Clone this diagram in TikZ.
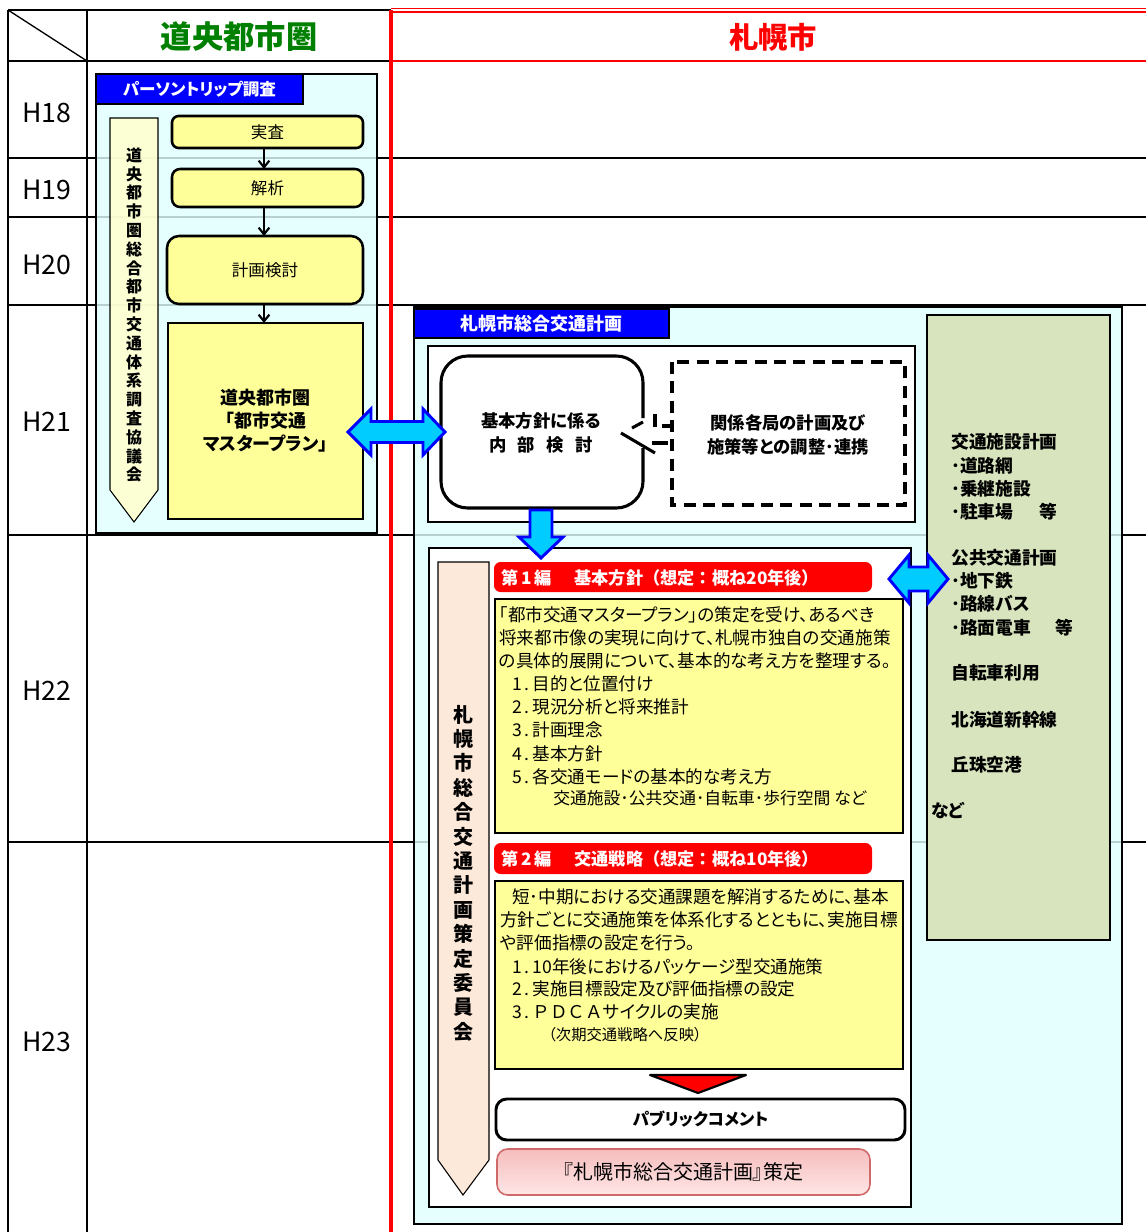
\documentclass[tikz,border=0pt]{standalone}
\usepackage{fontspec}
\setmainfont{Noto Sans CJK JP}
\newfontfamily\jp{Noto Sans CJK JP}
\newfontfamily\jpp[RawFeature=+palt]{Noto Sans CJK JP}
\usetikzlibrary{arrows.meta,fit}
\definecolor{cyanbg}{HTML}{E0FFFF}
\definecolor{ylw}{HTML}{FFFF99}
\definecolor{lylw}{HTML}{FFFFCC}
\definecolor{peach}{HTML}{FDE9D9}
\definecolor{olivebg}{HTML}{D7E4BD}
\definecolor{arrowfill}{HTML}{00CCFF}
\definecolor{hgreen}{HTML}{008000}
\definecolor{pinktop}{HTML}{F6BDBD}
\definecolor{pinkbot}{HTML}{FFE6E6}
\definecolor{pinkline}{HTML}{D06A6A}
\tikzset{
  tline/.style={line width=1.5pt},
  frame/.style={draw, line width=2.2pt, fill=cyanbg, fill opacity=0.82, inner sep=0pt, outer sep=0pt},
  bluetab/.style={draw, line width=1.8pt, fill=blue, inner sep=0pt, outer sep=0pt},
  ybox/.style={draw, line width=1.9pt, fill=ylw, inner sep=0pt, outer sep=0pt},
  wbox/.style={draw, line width=1.9pt, fill=white, inner sep=0pt, outer sep=0pt},
  redtab/.style={fill=red, rounded corners=5pt, inner sep=0pt, outer sep=0pt},
  blockarrow/.style={draw=blue, line width=2.2pt, fill=arrowfill, line join=miter},
  conn/.style={line width=1.6pt, -{Straight Barb[length=5pt,width=8pt]}},
  body/.style={font={\jpp\fontsize{13.2pt}{15pt}\selectfont}, anchor=west, inner sep=0pt},
  bodys/.style={font={\jpp\fontsize{11.5pt}{14pt}\selectfont}, anchor=west, inner sep=0pt},
  bodyb/.style={font={\jpp\bfseries\fontsize{13.3pt}{15pt}\selectfont}, anchor=west, inner sep=0pt},
  tabtext/.style={font={\jp\bfseries\fontsize{12.9pt}{15pt}\selectfont}, anchor=west, inner sep=0pt, text=white},
  cbold/.style={font={\jpp\bfseries\fontsize{13pt}{15pt}\selectfont}, inner sep=0pt},
  hlabel/.style={font={\fontsize{20pt}{24pt}\selectfont}, inner sep=0pt},
}
\begin{document}
\begin{tikzpicture}[x=0.75pt,y=-0.75pt]
\path[use as bounding box, fill=white] (0,0) rectangle (1146,1232);

% ---- table grid ----
\draw[tline] (8,10) -- (391,10);
\draw[tline] (8,61) -- (391,61);
\foreach \yy in {158,217,305,535,842} \draw[tline] (8,\yy) -- (1146,\yy);
\draw[tline] (8,10) -- (8,1232);
\draw[tline] (87,10) -- (87,1232);
\draw[line width=1pt] (8,10) -- (87,61);
\draw[red, line width=1.3pt] (391,8.5) -- (1146,8.5);
\draw[red, line width=1.5pt] (391,12) -- (1146,12);
\draw[red, line width=1.5pt] (391,61) -- (1146,61);
\draw[red, line width=2.4pt] (391,10) -- (391,1232);

\node[font={\bfseries\fontsize{23.5pt}{28pt}\selectfont}, text=hgreen] (hdrA) at (239,37) {道央都市圏};
\node[font={\bfseries\fontsize{22pt}{26pt}\selectfont}, text=red] (hdrB) at (773,37) {札幌市};

\node[hlabel] (h18) at (47,113) {H18};
\node[hlabel] (h19) at (47,190) {H19};
\node[hlabel] (h20) at (47,265) {H20};
\node[hlabel] (h21) at (47,422) {H21};
\node[hlabel] (h22) at (47,691) {H22};
\node[hlabel] (h23) at (47,1042) {H23};

% ---- left frame ----
\node[frame, fit={(96,74) (377,533)}] (leftframe) {};
\node[bluetab, fit={(96,74) (303,104)}] (pttab) {};
\node[font={\jpp\bfseries\fontsize{12.4pt}{14pt}\selectfont}, text=white] at (pttab.center) {パーソントリップ調査};
\path[draw, line width=0.8pt, fill=lylw, fill opacity=0.85, draw opacity=1]
  (110,118) -- (158,118) -- (158,490) -- (134,522) -- (110,490) -- cycle;
\node[font={\jp\bfseries\fontsize{12pt}{14.1pt}\selectfont}, align=center, inner sep=0pt] (kyogikai) at (134,315)
  {道\\央\\都\\市\\圏\\総\\合\\都\\市\\交\\通\\体\\系\\調\\査\\協\\議\\会};

\node[ybox, rounded corners=5pt, fit={(172,116) (363,148)}] (jissa) {};
\node[font={\jp\fontsize{12.4pt}{14pt}\selectfont}] at (jissa.center) {実査};
\node[ybox, rounded corners=6pt, fit={(172,169) (363,207)}] (kaiseki) {};
\node[font={\jp\fontsize{12.4pt}{14pt}\selectfont}] at (kaiseki.center) {解析};
\node[ybox, rounded corners=9pt, fit={(167,236) (363,304)}] (keikaku) {};
\node[font={\jp\fontsize{12.4pt}{14pt}\selectfont}] at (keikaku.center) {計画検討};
\node[ybox, fit={(168,323) (363,519)}] (mp) {};
\node[font={\jpp\bfseries\fontsize{13.5pt}{17.3pt}\selectfont}, align=center] at (mp.center) {道央都市圏\\「都市交通\\マスタープラン」};

\draw[conn] (jissa.south -| 264,0) -- (kaiseki.north -| 264,0);
\draw[conn] (kaiseki.south -| 264,0) -- (keikaku.north -| 264,0);
\draw[conn] (keikaku.south -| 264,0) -- (mp.north -| 264,0);

% ---- Sapporo frame ----
\node[frame, fit={(414,307) (1122,1224)}] (sapframe) {};
\node[bluetab, fit={(414,309) (669,338)}] (saptab) {};
\node[font={\jpp\bfseries\fontsize{13.5pt}{16pt}\selectfont}, text=white] at (saptab.center) {札幌市総合交通計画};

% right olive box
\node[draw, line width=1.4pt, fill=olivebg, inner sep=0pt, outer sep=0pt, fit={(927,315) (1110,940)}] (olive) {};
\node[bodyb] at (951,442) {交通施設計画};
\node[bodyb] at (951,466) {･道路網};
\node[bodyb] at (951,489) {･乗継施設};
\node[bodyb] at (951,512) {･駐車場\hspace{20pt}等};
\node[bodyb] at (951,558) {公共交通計画};
\node[bodyb] at (951,581) {･地下鉄};
\node[bodyb] at (951,604) {･路線バス};
\node[bodyb] at (951,628) {･路面電車\hspace{18pt}等};
\node[bodyb] at (951,673) {自転車利用};
\node[bodyb] at (951,720) {北海道新幹線};
\node[bodyb] at (951,765) {丘珠空港};
\node[bodyb] at (931,811) {など};

% upper white box
\node[wbox, fit={(428,346) (915,522)}] (upper) {};
\draw[line width=2.3pt, rounded corners=20pt, fill=white]
  (643,418) -- (643,356) -- (441,356) -- (441,508) -- (643,508) -- (643,448);
\draw[line width=2.3pt] (621,433) -- (655,453);
\draw[line width=2.3pt] (632,428) -- (643,422);
\draw[line width=2.3pt] (655,414) -- (655,427);
\draw[line width=2.3pt] (662,426) -- (672,426);
\draw[line width=2.3pt] (652,443) -- (668,443);
\node[cbold] (kihon1) at (541,421) {基本方針に係る};
\node[cbold] (kihon2) at (541,445) {内\hspace{8.5pt}部\hspace{8.5pt}検\hspace{8.5pt}討};
\draw[line width=2.3pt, dash pattern=on 9pt off 5.5pt] (672,362) rectangle (905,505);
\node[cbold] (kankei1) at (788,423) {関係各局の計画及び};
\node[cbold] (kankei2) at (788,447) {施策等との調整･連携};

% lower white box
\node[wbox, fit={(429,548) (911,1207)}] (lower) {};
\path[draw, line width=0.8pt, fill=peach]
  (438,562) -- (489,562) -- (489,1160) -- (463,1195) -- (438,1160) -- cycle;
\node[font={\jp\bfseries\fontsize{15pt}{18.3pt}\selectfont}, align=center, inner sep=0pt] (iinkai) at (463,873)
  {札\\幌\\市\\総\\合\\交\\通\\計\\画\\策\\定\\委\\員\\会};

\node[redtab, fit={(494,562) (872,592)}] (tab1) {};
\node[tabtext] at (501,578) {第\,1\,編\hspace{17pt}基本方針（想定：概ね20年後）};
\node[ybox, fit={(495,599) (903,833)}] (box1) {};
\node[body] at (499,615) {「都市交通マスタープラン」の策定を受け、あるべき};
\node[body] at (499,638) {将来都市像の実現に向けて、札幌市独自の交通施策};
\node[body] at (499,661) {の具体的展開について、基本的な考え方を整理する。};
\node[body] at (512,684) {1\,.\,目的と位置付け};
\node[body] at (512,707) {2\,.\,現況分析と将来推計};
\node[body] at (512,730) {3\,.\,計画理念};
\node[body] at (512,754) {4\,.\,基本方針};
\node[body] at (512,777) {5\,.\,各交通モードの基本的な考え方};
\node[body, font={\jpp\fontsize{12.6pt}{15pt}\selectfont}] at (553,798) {交通施設･公共交通･自転車･歩行空間\ など};

\node[redtab, fit={(494,843) (872,874)}] (tab2) {};
\node[tabtext] at (501,859) {第\,2\,編\hspace{17pt}交通戦略（想定：概ね10年後）};
\node[ybox, fit={(495,881) (903,1069)}] (box2) {};
\node[body] at (512,897) {短･中期における交通課題を解消するために、基本};
\node[body] at (500,920) {方針ごとに交通施策を体系化するとともに、実施目標};
\node[body] at (500,943) {や評価指標の設定を行う。};
\node[body] at (512,967) {1\,.\,10年後におけるパッケージ型交通施策};
\node[body] at (512,989) {2\,.\,実施目標設定及び評価指標の設定};
\node[body] at (512,1012) {3\,.\,{\jp ＰＤＣＡ}サイクルの実施};
\node[bodys] at (548,1035) {（次期交通戦略へ反映）};

\draw[line width=1.6pt, fill=red, line join=round] (650,1075) -- (746,1075) -- (698,1093) -- cycle;

\node[wbox, line width=2.2pt, rounded corners=8pt, fit={(496,1099) (905,1140)}] (pubcom) {};
\node[cbold, font={\jpp\bfseries\fontsize{12.5pt}{15pt}\selectfont}] at (pubcom.center) {パブリックコメント};

\node[draw=pinkline, line width=1.2pt, rounded corners=8pt, top color=pinktop, bottom color=pinkbot,
      inner sep=0pt, outer sep=0pt, fit={(497,1149) (870,1195)}] (final) {};
\node[font={\jpp\fontsize{15pt}{18pt}\selectfont}, inner sep=0pt] at (683,1172) {『札幌市総合交通計画』策定};

% ---- block arrows ----
\path[blockarrow] (348,432) -- (371,409) -- (371,421.5) -- (423,421.5) -- (423,409) -- (445,432)
  -- (423,455) -- (423,442.5) -- (371,442.5) -- (371,455) -- cycle;
\path[blockarrow] (530,510) -- (552,510) -- (552,537) -- (563,537) -- (541,558) -- (519,537) -- (530,537) -- cycle;
\path[blockarrow] (889,579) -- (909,555) -- (909,567) -- (928,567) -- (928,555) -- (948,579)
  -- (928,603) -- (928,591) -- (909,591) -- (909,603) -- cycle;
\end{tikzpicture}
\end{document}
